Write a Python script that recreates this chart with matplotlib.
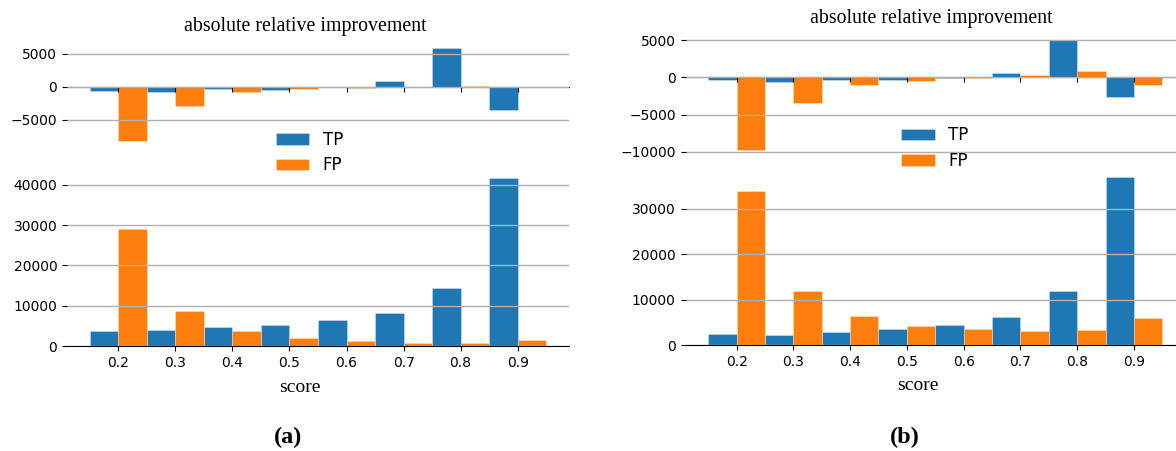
import numpy as np
import matplotlib
matplotlib.use("Agg")
import matplotlib.pyplot as plt

scores = [0.2, 0.3, 0.4, 0.5, 0.6, 0.7, 0.8, 0.9]
tick_labels = ["0.2", "0.3", "0.4", "0.5", "0.6", "0.7", "0.8", "0.9"]

# panel (a)
a_imp_tp = [-600, -800, -400, -500, 0, 800, 5800, -3600]
a_imp_fp = [-8200, -2900, -850, -350, -200, 0, 100, -50]
a_cnt_tp = [3600, 4000, 4700, 5300, 6500, 8200, 14500, 41700]
a_cnt_fp = [29000, 8600, 3700, 2000, 1200, 800, 700, 1500]
a_imp_yticks = [-5000, 0, 5000]

# panel (b)
b_imp_tp = [-400, -600, -300, -350, -50, 600, 4950, -2700]
b_imp_fp = [-9800, -3500, -1000, -500, -50, 250, 850, -1000]
b_cnt_tp = [2550, 2250, 2850, 3500, 4500, 6200, 12000, 37100]
b_cnt_fp = [33900, 12000, 6500, 4300, 3500, 3050, 3350, 6050]
b_imp_yticks = [-10000, -5000, 0, 5000]

W, H = 1176, 451
fig = plt.figure(figsize=(W / 100, H / 100), dpi=100)

BLUE = "#1f77b4"
ORANGE = "#ff7f0e"
SERIF = ["Liberation Serif", "DejaVu Serif"]


def rect(l, r, t, b):
    return [l / W, 1 - b / H, (r - l) / W, (b - t) / H]


def style(ax, vals):
    x = np.array(scores)
    ax.bar(x - 0.025, vals[0], width=0.05, color=BLUE, edgecolor=(1, 1, 1, 0.35),
           linewidth=0.6, label="TP")
    ax.bar(x + 0.025, vals[1], width=0.05, color=ORANGE, edgecolor=(1, 1, 1, 0.35),
           linewidth=0.6, label="FP")
    ax.set_xticks(scores)
    ax.yaxis.grid(True, color="#b0b0b0", linewidth=1.0)
    ax.set_axisbelow(False)
    for s in ["left", "right", "top"]:
        ax.spines[s].set_visible(False)
    ax.spines["bottom"].set_color("black")
    ax.tick_params(axis="both", labelsize=10, colors="black")


def panel(l, r, t_top, b_top, t_bot, b_bot, imp, cnt, yticks, title_xy, xl_xy, lab_xy, lab, leg_xy):
    ax1 = fig.add_axes(rect(l, r, t_top, b_top))
    style(ax1, imp)
    ax1.spines["bottom"].set_position("zero")
    ax1.set_xticklabels([])
    ax1.set_yticks(yticks)

    ax2 = fig.add_axes(rect(l, r, t_bot, b_bot))
    style(ax2, cnt)
    ax2.set_xticklabels(tick_labels)
    ax2.set_xlim(ax1.get_xlim())

    fig.text(title_xy[0] / W, 1 - title_xy[1] / H, "absolute relative improvement",
             family=SERIF, fontsize=14.3, ha="center", va="center")
    fig.text(xl_xy[0] / W, 1 - xl_xy[1] / H, "score", family=SERIF, fontsize=14,
             ha="center", va="center")
    fig.text(lab_xy[0] / W, 1 - lab_xy[1] / H, lab, family=SERIF, fontsize=17.5,
             fontweight="bold", ha="center", va="center")
    h, labels = ax1.get_legend_handles_labels()
    fig.legend(h, labels, loc="center", bbox_to_anchor=(leg_xy[0] / W, 1 - leg_xy[1] / H),
               frameon=False, fontsize=12, handlelength=2.0, labelspacing=0.45)
    return ax1, ax2


panel(67, 569, 43.8, 145.4, 169.5, 346, (a_imp_tp, a_imp_fp), (a_cnt_tp, a_cnt_fp), a_imp_yticks,
      (305, 26), (300, 388), (288, 437), "(a)", (309.5, 152.5))
panel(685.5, 1185, 34.9, 155.9, 168.1, 345.3, (b_imp_tp, b_imp_fp), (b_cnt_tp, b_cnt_fp), b_imp_yticks,
      (931, 19), (918, 386), (905, 437), "(b)", (934.8, 148))

fig.savefig("out.png", dpi=100)
